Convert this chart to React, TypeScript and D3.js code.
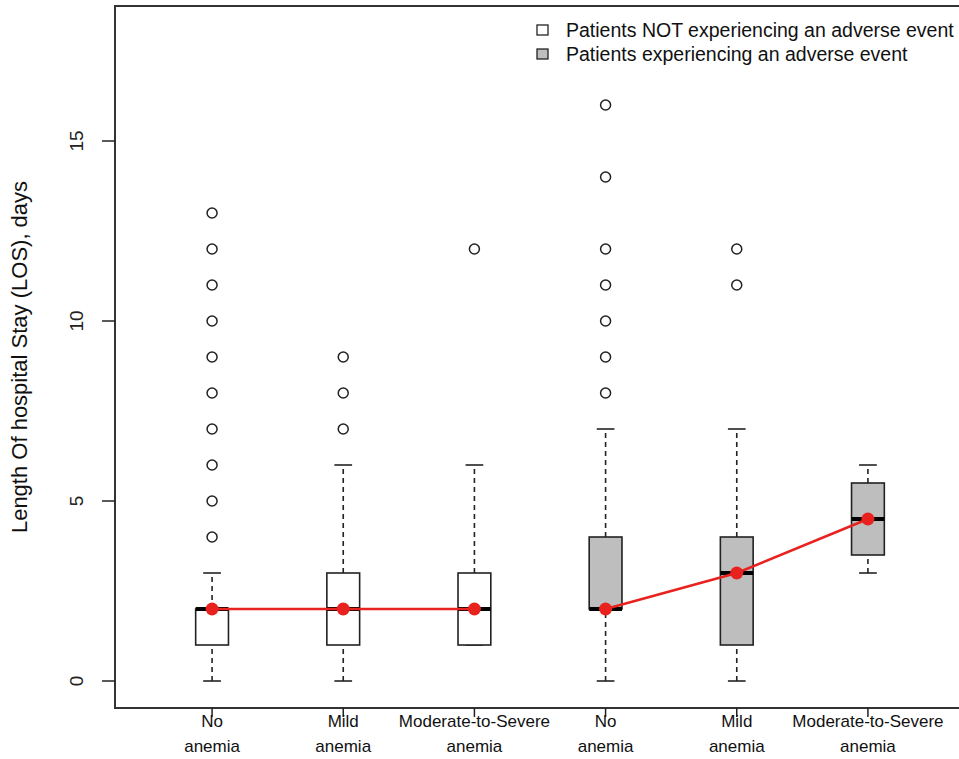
import React, { useEffect, useRef } from 'react';
import * as d3 from 'd3';

// categories shown on the x axis (two lines each)
const categories = [
  ['No', 'anemia'],
  ['Mild', 'anemia'],
  ['Moderate-to-Severe', 'anemia'],
  ['No', 'anemia'],
  ['Mild', 'anemia'],
  ['Moderate-to-Severe', 'anemia'],
];
const groupOf = [0, 0, 0, 1, 1, 1];
const groupNames = ['Patients NOT experiencing an adverse event', 'Patients experiencing an adverse event'];
const groupFill = ['#ffffff', '#bebebe'];

// box stats: lower whisker, Q1, median, Q3, upper whisker
const whiskLow = [0, 0, 1, 0, 0, 3];
const q1 = [1, 1, 1, 2, 1, 3.5];
const medians = [2, 2, 2, 2, 3, 4.5];
const q3 = [2, 3, 3, 4, 4, 5.5];
const whiskHigh = [3, 6, 6, 7, 7, 6];
const outliers = [
  [4, 5, 6, 7, 8, 9, 10, 11, 12, 13],
  [7, 8, 9],
  [12],
  [8, 9, 10, 11, 12, 14, 16],
  [11, 12],
  [],
];
const means = [2, 2, 2, 2, 3, 4.5];
const yTicks = [0, 5, 10, 15];

const App = () => {
  const svgRef = useRef<SVGSVGElement>(null);

  useEffect(() => {
    if (!svgRef.current) return;
    const width = 959;
    const height = 759;
    const left = 115, right = 965, top = 6, bottom = 708;

    const svg = d3.select(svgRef.current);
    svg.selectAll('*').remove();
    svg.attr('width', width).attr('height', height).attr('viewBox', `0 0 ${width} ${height}`);

    const x = d3.scaleLinear().domain([0.26, 6.74]).range([left, right]);
    const y = d3.scaleLinear().domain([-0.75, 18.75]).range([bottom, top]);
    const font = '"Liberation Sans", Arial, sans-serif';
    const boxW = 0.25;
    const capW = 0.135;
    const ink = '#222';

    const g = svg.append('g');

    // boxes
    categories.forEach((_, i) => {
      const cx = x(i + 1);
      const bx0 = x(i + 1 - boxW / 2);
      const bx1 = x(i + 1 + boxW / 2);
      const cx0 = x(i + 1 - capW / 2);
      const cx1 = x(i + 1 + capW / 2);

      // whiskers
      [[q3[i], whiskHigh[i]], [whiskLow[i], q1[i]]].forEach(([a, b]) => {
        if (a === b) return;
        g.append('line')
          .attr('x1', cx).attr('x2', cx)
          .attr('y1', y(a)).attr('y2', y(b))
          .attr('stroke', ink).attr('stroke-width', 1.6)
          .attr('stroke-dasharray', '5,4');
      });
      [whiskHigh[i], whiskLow[i]].forEach((v) => {
        g.append('line')
          .attr('x1', cx0).attr('x2', cx1)
          .attr('y1', y(v)).attr('y2', y(v))
          .attr('stroke', ink).attr('stroke-width', 1.6);
      });

      g.append('rect')
        .attr('x', bx0).attr('y', y(q3[i]))
        .attr('width', bx1 - bx0).attr('height', y(q1[i]) - y(q3[i]))
        .attr('fill', groupFill[groupOf[i]])
        .attr('stroke', ink).attr('stroke-width', 1.6);

      g.append('line')
        .attr('x1', bx0).attr('x2', bx1)
        .attr('y1', y(medians[i])).attr('y2', y(medians[i]))
        .attr('stroke', '#000').attr('stroke-width', 4);

      g.selectAll(null)
        .data(outliers[i])
        .join('circle')
        .attr('cx', cx).attr('cy', (d) => y(d))
        .attr('r', 5)
        .attr('fill', 'none')
        .attr('stroke', ink).attr('stroke-width', 1.5);
    });

    // mean lines per group
    const line = d3.line<number>().x((d) => x(d + 1)).y((d) => y(means[d]));
    [0, 1].forEach((grp) => {
      const idx = d3.range(categories.length).filter((i) => groupOf[i] === grp);
      g.append('path')
        .attr('d', line(idx))
        .attr('fill', 'none')
        .attr('stroke', '#e8221f').attr('stroke-width', 2.5);
    });
    g.selectAll('.mean')
      .data(means)
      .join('circle')
      .attr('class', 'mean')
      .attr('cx', (_, i) => x(i + 1)).attr('cy', (d) => y(d))
      .attr('r', 6.5)
      .attr('fill', '#e8221f');

    // plot frame
    svg.append('rect')
      .attr('x', left).attr('y', top)
      .attr('width', right - left).attr('height', bottom - top)
      .attr('fill', 'none').attr('stroke', '#333').attr('stroke-width', 2);

    // y axis
    yTicks.forEach((t) => {
      svg.append('line')
        .attr('x1', left - 13).attr('x2', left)
        .attr('y1', y(t)).attr('y2', y(t))
        .attr('stroke', ink).attr('stroke-width', 1.5);
      svg.append('text')
        .attr('transform', `translate(${left - 39},${y(t)}) rotate(-90)`)
        .attr('text-anchor', 'middle')
        .attr('dy', '0.35em')
        .attr('font-family', font).attr('font-size', 19)
        .attr('fill', ink)
        .text(t);
    });
    svg.append('text')
      .attr('transform', `translate(27,${(top + bottom) / 2}) rotate(-90)`)
      .attr('text-anchor', 'middle')
      .attr('font-family', font).attr('font-size', 22)
      .attr('fill', '#111')
      .text('Length Of hospital Stay (LOS), days');

    // x axis
    categories.forEach((lab, i) => {
      const cx = x(i + 1);
      svg.append('line')
        .attr('x1', cx).attr('x2', cx)
        .attr('y1', bottom).attr('y2', bottom + 9)
        .attr('stroke', ink).attr('stroke-width', 1.5);
      lab.forEach((s, k) => {
        svg.append('text')
          .attr('x', cx).attr('y', 727 + k * 25)
          .attr('text-anchor', 'middle')
          .attr('font-family', font).attr('font-size', 17)
          .attr('fill', '#111')
          .text(s);
      });
    });

    // legend
    groupNames.forEach((name, k) => {
      const ly = 30 + k * 24;
      svg.append('rect')
        .attr('x', 537).attr('y', ly - 5)
        .attr('width', 11).attr('height', 10)
        .attr('fill', groupFill[k]).attr('stroke', ink).attr('stroke-width', 1.3);
      svg.append('text')
        .attr('x', 566).attr('y', ly)
        .attr('dy', '0.35em')
        .attr('font-family', font).attr('font-size', 19.5)
        .attr('fill', '#111')
        .text(name);
    });
  }, []);

  return (
    <div style={{ position: 'absolute', left: 0, top: 0, background: '#fff' }}>
      <svg ref={svgRef} style={{ display: 'block' }}></svg>
    </div>
  );
};

export default App;
